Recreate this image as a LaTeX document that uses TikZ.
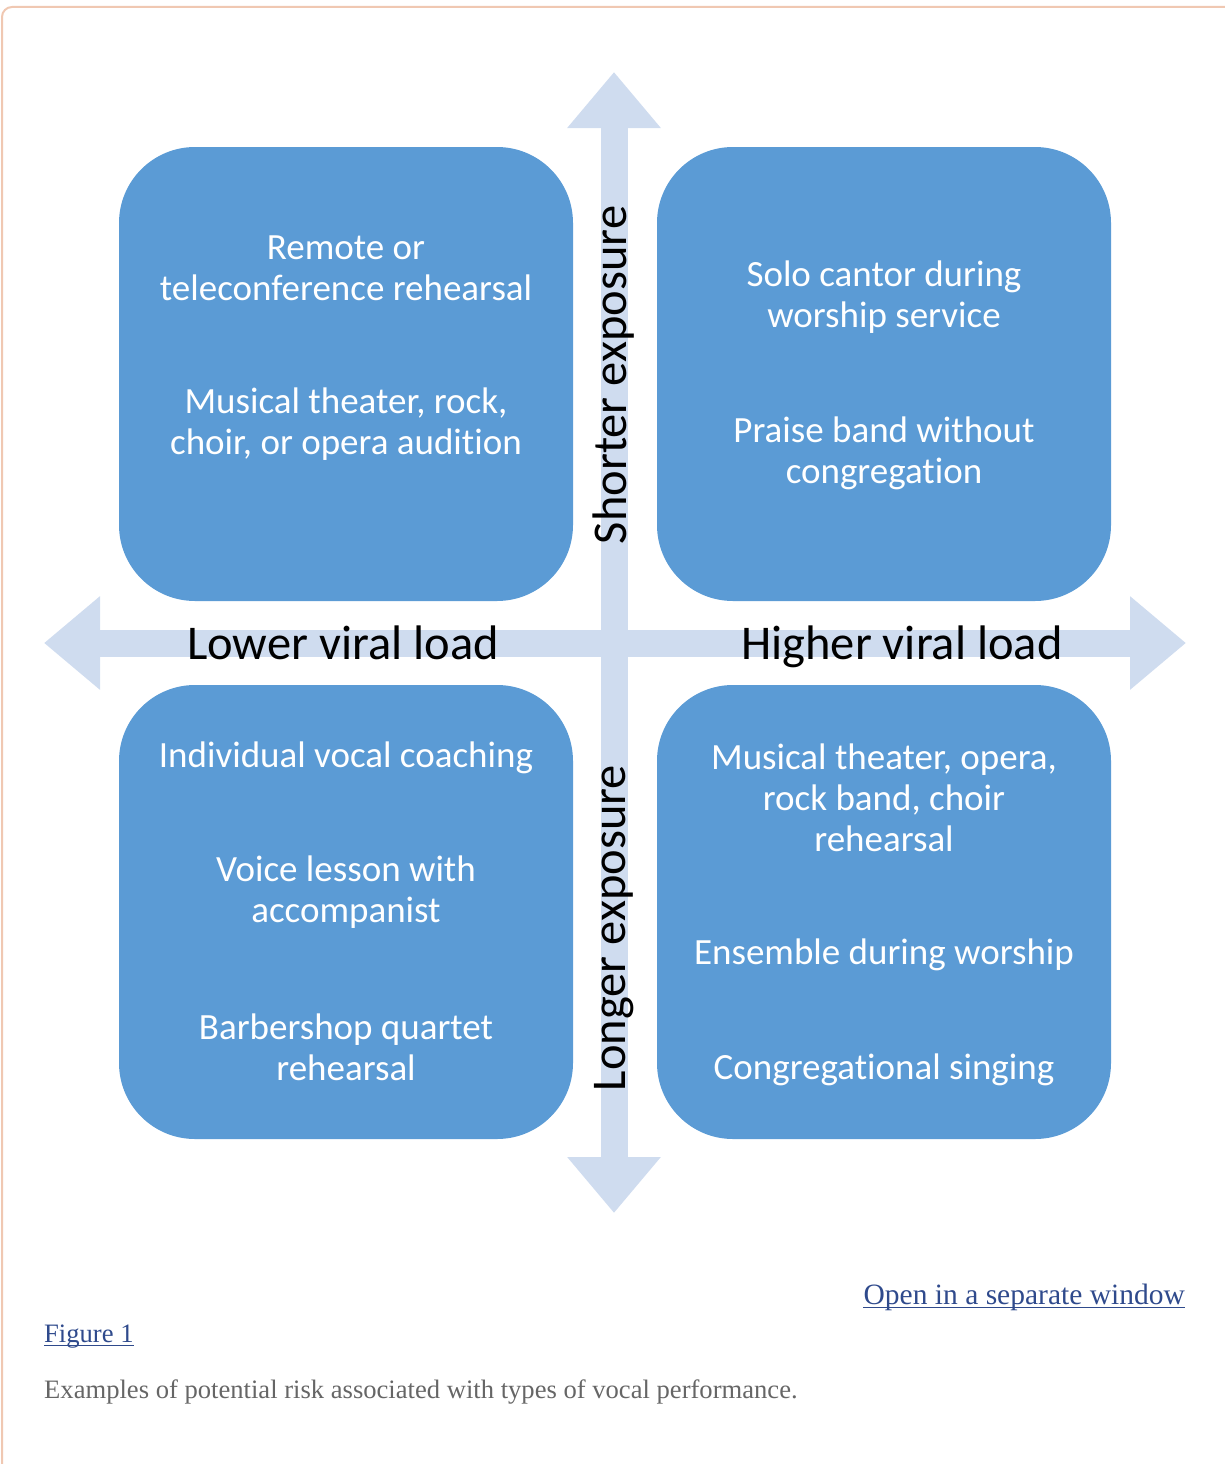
\documentclass[tikz,border=0pt]{standalone}
\usepackage{fontspec}
\setmainfont{Liberation Serif}
\newfontfamily\calibri[Ligatures=NoCommon]{Carlito}
\usetikzlibrary{arrows.meta}

\definecolor{quadblue}{RGB}{91,155,213}
\definecolor{axisblue}{RGB}{207,220,239}
\definecolor{framepeach}{RGB}{240,200,178}
\definecolor{linkblue}{RGB}{47,74,140}
\definecolor{capgray}{RGB}{102,102,102}

\tikzset{
  quad/.style={fill=quadblue, rounded corners=76pt, minimum width=454pt, minimum height=454pt, inner sep=0pt},
  item/.style={text=white, align=center, font=\calibri\fontsize{37}{41}\selectfont, inner sep=0pt},
  axislabel/.style={font=\calibri\fontsize{48.5}{52}\selectfont, inner sep=0pt},
  axisarrow/.style={line width=27pt, axisblue, {Triangle[width=90pt,length=56pt]}-{Triangle[width=90pt,length=56pt]}},
  link/.style={text=linkblue, inner sep=0pt},
  linkrule/.style={linkblue, line width=1.8pt},
}

\begin{document}
\begin{tikzpicture}[x=1pt,y=-1pt]
\useasboundingbox (0,0) rectangle (1225,1464);
% page frame
\draw[framepeach, line width=2pt, rounded corners=10pt] (2,1470) -- (2,7) -- (1230,7);

% axes
\coordinate (up) at (614,72);
\coordinate (down) at (614,1213);
\coordinate (lo) at (44,643);
\coordinate (hi) at (1186,643);
\draw[axisarrow] (down) -- (up);
\draw[axisarrow] (lo) -- (hi);

% quadrants
\node[quad] (tl) at (346,374) {};
\node[quad] (tr) at (884,374) {};
\node[quad] (bl) at (346,912) {};
\node[quad] (br) at (884,912) {};

\node[axislabel, anchor=base] (lower) at (343,659) {Lower viral load};
\node[axislabel, anchor=base] (higher) at (902,659) {Higher viral load};
\node[axislabel, rotate=90] (shorter) at (614,375) {Shorter exposure};
\node[axislabel, rotate=90] (longer) at (614,928) {Longer exposure};

\node[item] (remote) at (346,268) {Remote or\\teleconference rehearsal};
\node[item] (audition) at (346,424) {Musical theater, rock,\\choir, or opera audition};
\node[item] (cantor) at (884,297) {Solo cantor during\\worship service};
\node[item] (praise) at (884,453) {Praise band without\\congregation};
\node[item] (coaching) at (346,758) {Individual vocal coaching};
\node[item] (lesson) at (346,892) {Voice lesson with\\accompanist};
\node[item] (barbershop) at (346,1047) {Barbershop quartet\\rehearsal};
\node[item] (ensemble) at (884,798) {Musical theater, opera,\\rock band, choir\\rehearsal};
\node[item] (worship) at (884,955) {Ensemble during worship};
\node[item] (congregational) at (884,1070) {Congregational singing};

% caption
\node[link, anchor=base east, font=\fontsize{29.5}{32}\selectfont] (open) at (1185,1304) {Open in a separate window};
\draw[linkrule] ([yshift=-3.5pt]open.base west) -- ([yshift=-3.5pt]open.base east);
\node[link, anchor=base west, font=\fontsize{26.6}{30}\selectfont] (fig) at (44,1342) {Figure 1};
\draw[linkrule] ([yshift=-3.5pt]fig.base west) -- ([yshift=-3.5pt]fig.base east);
\node[anchor=base west, text=capgray, font=\fontsize{26.6}{30}\selectfont, inner sep=0pt] (caption) at (44,1398) {Examples of potential risk associated with types of vocal performance.};
\end{tikzpicture}
\end{document}
